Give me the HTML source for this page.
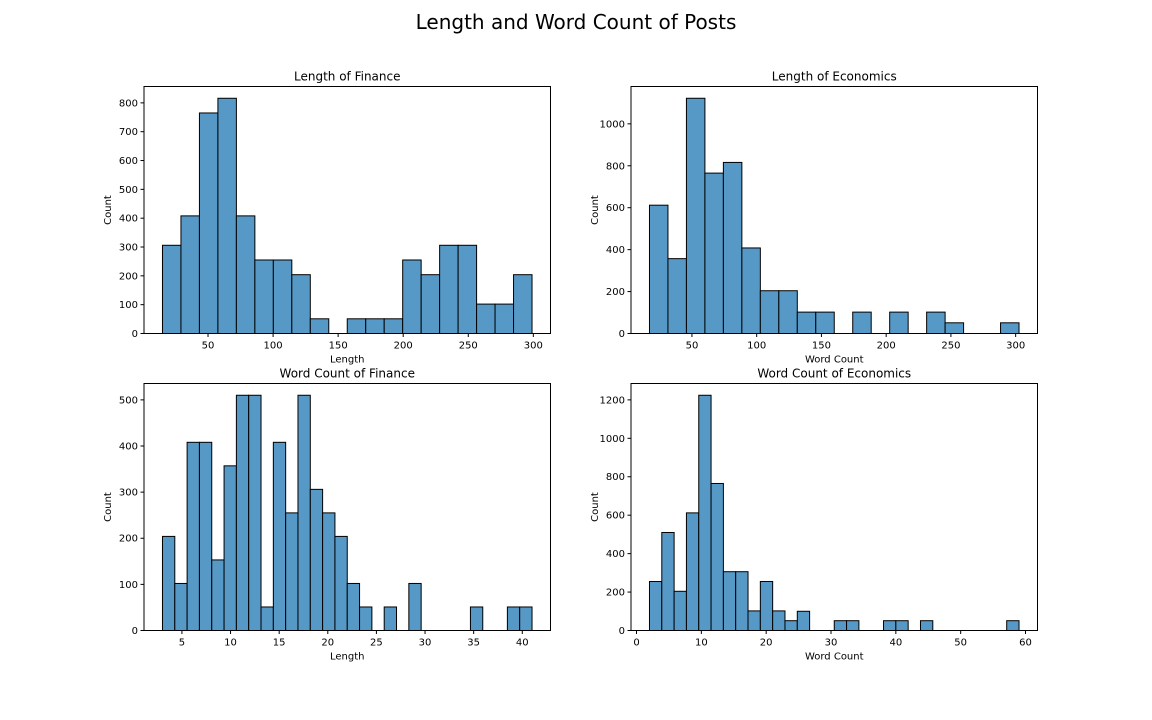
<!DOCTYPE html>
<html><head><meta charset="utf-8"><style>
html,body{margin:0;padding:0;background:#fff;}
svg{display:block;font-family:"DejaVu Sans","Liberation Sans",sans-serif;}
</style></head><body>
<svg id="fig" width="1152" height="720" xmlns="http://www.w3.org/2000/svg">
<rect width="1152" height="720" fill="#fff"/>
<text x="576" y="29" text-anchor="middle" font-size="20" fill="#000">Length and Word Count of Posts</text>
</svg>
<script>
// Length of Finance
const lenFinStart = 15, lenFinWidth = 14.2;
const lenFinCounts = [306,408,765,816,408,255,255,204,51,0,51,51,51,255,204,306,306,102,102,204];
const lenFinXTicks = [50,100,150,200,250,300];
const lenFinYTicks = [0,100,200,300,400,500,600,700,800];
// Length of Economics
const lenEcoStart = 17.2, lenEcoWidth = 14.27;
const lenEcoCounts = [612,357,1122,765,816,408,204,204,102,102,0,102,0,102,0,102,51,0,0,51];
const lenEcoXTicks = [50,100,150,200,250,300];
const lenEcoYTicks = [0,200,400,600,800,1000];
// Word Count of Finance
const wcFinStart = 3, wcFinWidth = 1.2667;
const wcFinCounts = [204,102,408,408,153,357,510,510,51,408,255,510,306,255,204,102,51,0,51,0,102,0,0,0,0,51,0,0,51,51];
const wcFinXTicks = [5,10,15,20,25,30,35,40];
const wcFinYTicks = [0,100,200,300,400,500];
// Word Count of Economics
const wcEcoStart = 2, wcEcoWidth = 1.9;
const wcEcoCounts = [255,510,204,612,1224,765,306,306,102,255,102,51,100,0,0,51,51,0,0,51,51,0,51,0,0,0,0,0,0,51];
const wcEcoXTicks = [0,10,20,30,40,50,60];
const wcEcoYTicks = [0,200,400,600,800,1000,1200];

const NS = "http://www.w3.org/2000/svg";
const fig = document.getElementById('fig');
function mk(tag, attrs, parent){
  const e = document.createElementNS(NS, tag);
  for (const k in attrs) e.setAttribute(k, attrs[k]);
  (parent||fig).appendChild(e);
  return e;
}
function panel(name, box, start, width, counts, xticks, yticks, title, xlabel){
  const g = mk('g', {});
  
  
  const end = start + width * counts.length;
  const pad = (end - start) * 0.05;
  const x0 = start - pad, x1 = end + pad;
  const ymax = Math.max(...counts) * 1.05;
  const sx = v => box.l + (v - x0) / (x1 - x0) * (box.r - box.l);
  const sy = v => box.b - v / ymax * (box.b - box.t);
  counts.forEach((c, i) => {
    if (c <= 0) return;
    const xa = sx(start + i * width), xb = sx(start + (i + 1) * width);
    const r = mk('rect', {x: xa, y: sy(c), width: xb - xa, height: sy(0) - sy(c), fill: '#5799c6', stroke: '#000', 'stroke-width': 1}, g);
    
    
  });
  const frame = mk('rect', {x: box.l, y: box.t, width: box.r - box.l, height: box.b - box.t, fill: 'none', stroke: '#000', 'stroke-width': 1}, g);
  
  
  xticks.forEach(v => {
    const x = sx(v);
    mk('line', {x1: x, x2: x, y1: box.b, y2: box.b + 3.5, stroke: '#000'}, g);
    const t = mk('text', {x: x, y: box.b + 15, 'text-anchor': 'middle', 'font-size': 10}, g);
    t.textContent = v;
    
    
  });
  yticks.forEach(v => {
    const y = sy(v);
    mk('line', {x1: box.l - 3.5, x2: box.l, y1: y, y2: y, stroke: '#000'}, g);
    const t = mk('text', {x: box.l - 6, y: y + 3.5, 'text-anchor': 'end', 'font-size': 10}, g);
    t.textContent = v;
    
    
  });
  const tt = mk('text', {x: (box.l + box.r) / 2, y: box.t - 6, 'text-anchor': 'middle', 'font-size': 12}, g);
  tt.textContent = title;
  
  
  const xl = mk('text', {x: (box.l + box.r) / 2, y: box.b + 29, 'text-anchor': 'middle', 'font-size': 10}, g);
  xl.textContent = xlabel;
  
  
  const cy = (box.t + box.b) / 2;
  const yl = mk('text', {x: box.l - 33, y: cy, 'text-anchor': 'middle', 'font-size': 10, transform: 'rotate(-90 ' + (box.l - 33) + ' ' + cy + ')'}, g);
  yl.textContent = 'Count';
  
  
}
panel('length-finance', {l:144, r:550.5, t:86.5, b:333.5}, lenFinStart, lenFinWidth, lenFinCounts, lenFinXTicks, lenFinYTicks, 'Length of Finance', 'Length');
panel('length-economics', {l:631, r:1037.5, t:86.5, b:333.5}, lenEcoStart, lenEcoWidth, lenEcoCounts, lenEcoXTicks, lenEcoYTicks, 'Length of Economics', 'Word Count');
panel('wordcount-finance', {l:144, r:550.5, t:383.5, b:630.5}, wcFinStart, wcFinWidth, wcFinCounts, wcFinXTicks, wcFinYTicks, 'Word Count of Finance', 'Length');
panel('wordcount-economics', {l:631, r:1037.5, t:383.5, b:630.5}, wcEcoStart, wcEcoWidth, wcEcoCounts, wcEcoXTicks, wcEcoYTicks, 'Word Count of Economics', 'Word Count');
</script>
</body></html>
